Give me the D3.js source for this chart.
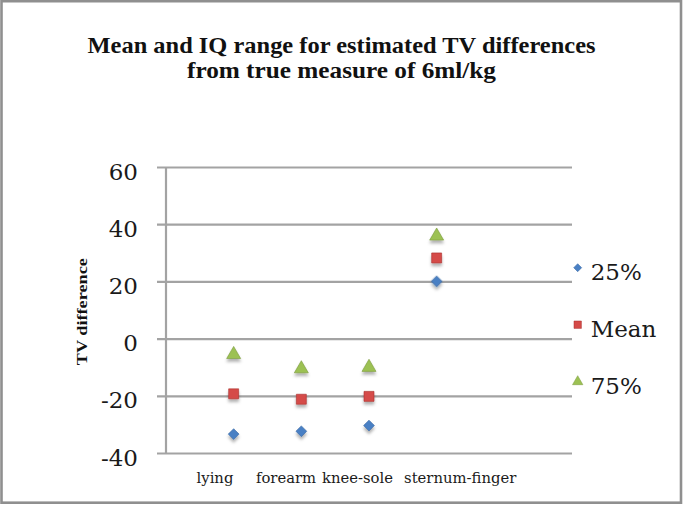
<!DOCTYPE html>
<html>
<head>
<meta charset="utf-8">
<script src="https://cdn.jsdelivr.net/npm/d3@7"></script>
<style>
  html, body { margin: 0; padding: 0; background: #fff; }
  svg { display: block; }
</style>
</head>
<body>
<svg id="chart" width="685" height="506"></svg>
<script>
// ---- data ----
const titleLines = ["Mean and IQ range for estimated TV differences", "from true measure of 6ml/kg"];
const yAxisTitle = "TV difference";
const categories = ["lying", "forearm", "knee-sole", "sternum-finger"];
const p25Values = [-33.4, -32.4, -30.4, 20.0];
const meanValues = [-19.3, -21.2, -20.2, 28.2];
const p75Values = [-5.2, -10.2, -9.7, 36.2];
const seriesNames = ["25%", "Mean", "75%"];
const yTicks = [-40, -20, 0, 20, 40, 60];

// ---- layout ----
const svg = d3.select("#chart");
const plot = { left: 166, right: 572, top: 167, bottom: 453 };
const x = d3.scaleLinear().domain([0, 6]).range([plot.left, plot.right]);
const y = d3.scaleLinear().domain([-40, 60]).range([plot.bottom, plot.top]);
const gridColor = "#a3a3a3";
const colors = ["#4a80c4", "#d54b48", "#9cc153"];
const strokes = ["#3767a3", "#a9312f", "#78993a"];
const shapes = [d3.symbolSquare, d3.symbolSquare, d3.symbolTriangle];
const rotations = [45, 0, 0];
const seriesData = [p25Values, meanValues, p75Values];

// shadow filter
const defs = svg.append("defs");
const f = defs.append("filter").attr("id", "shadow").attr("x", "-50%").attr("y", "-50%").attr("width", "200%").attr("height", "250%");
f.append("feDropShadow").attr("dx", 0).attr("dy", 3).attr("stdDeviation", 1.6)
  .attr("flood-color", "#000").attr("flood-opacity", 0.3);

// outer frame
svg.append("rect").attr("x", 1.5).attr("y", 1.2).attr("width", 679.5).attr("height", 501.5)
  .attr("fill", "#fff").attr("stroke", "#8f8f8f").attr("stroke-width", 2.6);

// title
const title = svg.append("g");
title.append("text").attr("x", 341.5).attr("y", 53.3).attr("text-anchor", "middle")
  .attr("font-family", "Liberation Serif").attr("font-weight", "bold").attr("font-size", 22.5)
  .attr("textLength", 508).attr("lengthAdjust", "spacingAndGlyphs").attr("fill", "#111")
  .text(titleLines[0]);
title.append("text").attr("x", 341.5).attr("y", 78.3).attr("text-anchor", "middle")
  .attr("font-family", "Liberation Serif").attr("font-weight", "bold").attr("font-size", 22.5)
  .attr("textLength", 309).attr("lengthAdjust", "spacingAndGlyphs").attr("fill", "#111")
  .text(titleLines[1]);

// y axis with gridlines
const yAxis = d3.axisLeft(y).tickValues(yTicks).tickSize(-(plot.right - plot.left)).tickPadding(0).tickFormat(d => String(d));
const gy = svg.append("g").attr("transform", `translate(${plot.left},0)`).call(yAxis);
gy.select(".domain").remove();
gy.selectAll(".tick line").attr("stroke", gridColor).attr("stroke-width", 2.2).attr("x1", -9);
gy.selectAll(".tick text").attr("font-family", "DejaVu Serif").attr("font-size", 23)
  .attr("fill", "#1a1a1a").attr("x", -28).attr("dy", null).attr("y", 12);
svg.append("line").attr("x1", plot.left).attr("x2", plot.left).attr("y1", plot.top).attr("y2", plot.bottom)
  .attr("stroke", gridColor).attr("stroke-width", 2.2);

// y axis title
svg.append("text").attr("transform", "translate(87,311.7) rotate(-90)").attr("text-anchor", "middle")
  .attr("font-family", "Liberation Serif").attr("font-weight", "bold").attr("font-size", 14.5)
  .attr("textLength", 107).attr("lengthAdjust", "spacingAndGlyphs").attr("fill", "#111")
  .text(yAxisTitle);

// x category labels
const labelShift = [-18.7, -15.3, -11.5, 23.5];
svg.append("g").selectAll("text").data(categories).join("text")
  .attr("x", (d, i) => x(i + 1) + labelShift[i]).attr("y", 482.7).attr("text-anchor", "middle")
  .attr("font-family", "DejaVu Serif").attr("font-size", 14.8).attr("fill", "#1a1a1a")
  .text(d => d);

// markers
const symSizes = [58, 100, 85];
seriesData.forEach((vals, s) => {
  svg.append("g").attr("filter", "url(#shadow)").selectAll("path").data(vals).join("path")
    .attr("d", d3.symbol().type(shapes[s]).size(symSizes[s]))
    .attr("transform", (d, i) => `translate(${x(i + 1)},${y(d) + (s === 2 ? 1 : 0)}) rotate(${rotations[s]})`)
    .attr("fill", colors[s]).attr("stroke", strokes[s]).attr("stroke-width", 0.6);
});

// legend
const legendY = [267.7, 324.7, 381.7];
const lg = svg.append("g");
seriesNames.forEach((name, s) => {
  lg.append("path").attr("d", d3.symbol().type(shapes[s]).size(symSizes[s] * 0.55))
    .attr("transform", `translate(577.7,${legendY[s]}) rotate(${rotations[s]})`)
    .attr("fill", colors[s]).attr("stroke", strokes[s]).attr("stroke-width", 0.5);
  lg.append("text").attr("x", 590.7).attr("y", legendY[s] + 11.8)
    .attr("font-family", "DejaVu Serif").attr("font-size", 23).attr("fill", "#1a1a1a")
    .text(name);
});
</script>
</body>
</html>
